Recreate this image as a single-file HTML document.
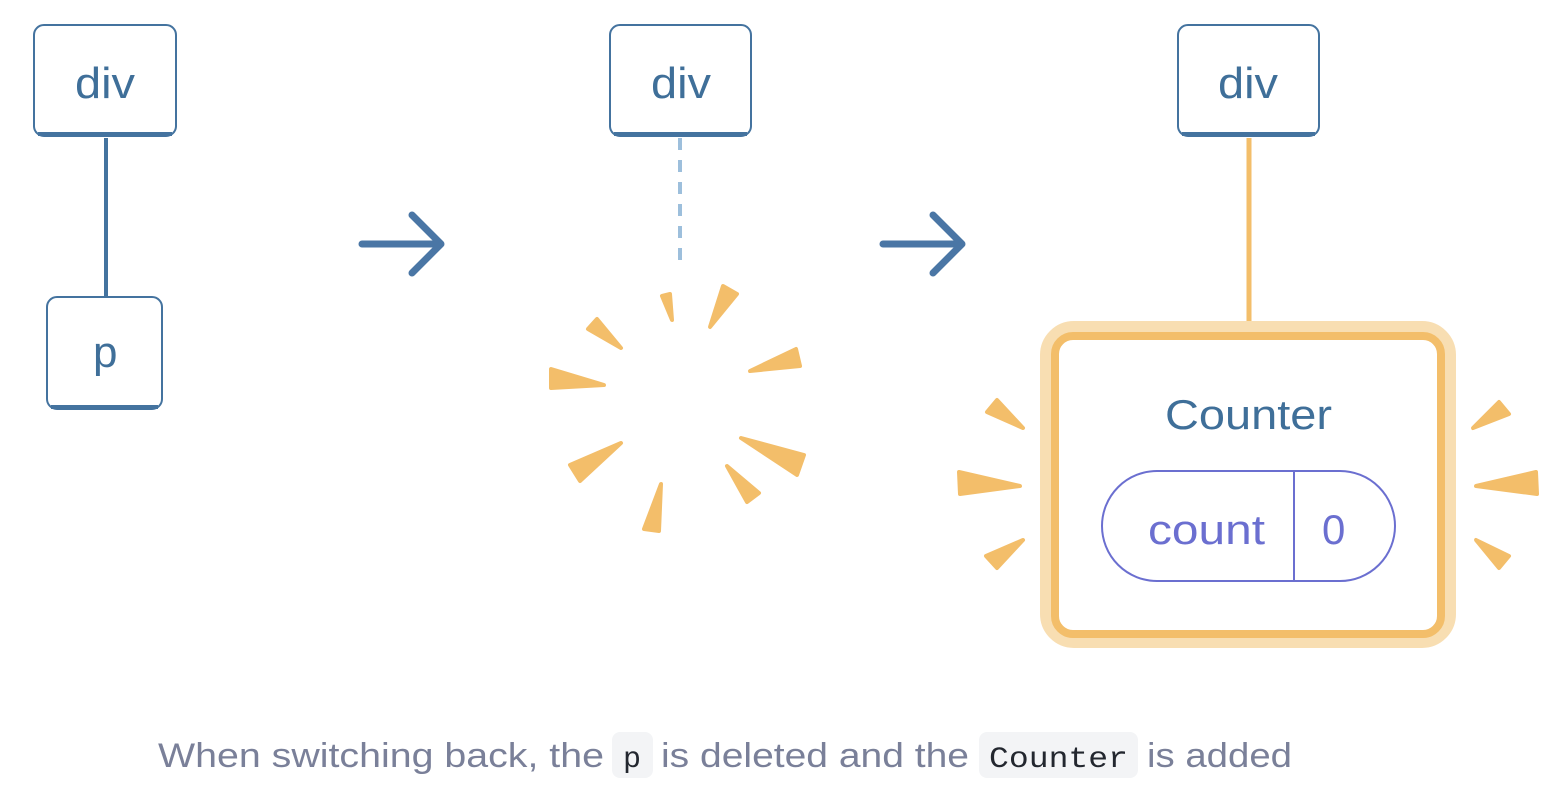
<!DOCTYPE html>
<html><head><meta charset="utf-8"><style>
html,body{margin:0;padding:0;background:#fff;}
svg{display:block;}
</style></head><body>
<svg width="1554" height="800" viewBox="0 0 1554 800" xmlns="http://www.w3.org/2000/svg">
<g fill="#fff" stroke="#44739f" stroke-width="2">
  <rect x="34" y="25" width="142" height="111" rx="10"/>
  <rect x="47" y="297" width="115" height="112" rx="10"/>
  <rect x="610" y="25" width="141" height="111" rx="10"/>
  <rect x="1178" y="25" width="141" height="111" rx="10"/>
</g>
<g stroke="#44739f" stroke-width="4" fill="none">
  <path d="M38 134 H172"/><path d="M51 407 H158"/><path d="M614 134 H747"/><path d="M1182 134 H1315"/>
</g>
<line x1="106" y1="138" x2="106" y2="297" stroke="#44739f" stroke-width="4"/>
<line x1="680" y1="138" x2="680" y2="262" stroke="#9dbfdc" stroke-width="4" stroke-dasharray="12,10"/>
<line x1="1249" y1="138" x2="1249" y2="332" stroke="#f3be6a" stroke-width="5"/>
<g font-family="'Liberation Sans',sans-serif" font-size="44" fill="#3f6f99">
  <text x="75" y="98" textLength="60" lengthAdjust="spacingAndGlyphs">div</text>
  <text x="93" y="367">p</text>
  <text x="651" y="98" textLength="60" lengthAdjust="spacingAndGlyphs">div</text>
  <text x="1218" y="98" textLength="60" lengthAdjust="spacingAndGlyphs">div</text>
</g>
<g stroke="#4a76a5" stroke-width="7" fill="none" stroke-linecap="round" stroke-linejoin="round">
  <path d="M362 244 H440 M412 215 L441 244 L412 273"/>
  <path d="M883 244 H961 M933 215 L962 244 L933 273"/>
</g>
<rect x="1046" y="327" width="404" height="315" rx="28" fill="none" stroke="#f8deb2" stroke-width="12"/>
<rect x="1055" y="336" width="386" height="298" rx="18" fill="#fff" stroke="#f3be6a" stroke-width="8"/>
<text x="1165" y="429" font-family="'Liberation Sans',sans-serif" font-size="42" fill="#3f6f99" textLength="167" lengthAdjust="spacingAndGlyphs">Counter</text>
<rect x="1102" y="471" width="293" height="110" rx="55" fill="#fff" stroke="#6b6fd0" stroke-width="2"/>
<line x1="1294" y1="471" x2="1294" y2="581" stroke="#6b6fd0" stroke-width="2"/>
<g font-family="'Liberation Sans',sans-serif" font-size="42" fill="#6b6fd0">
  <text x="1148" y="544" textLength="117" lengthAdjust="spacingAndGlyphs">count</text>
  <text x="1322" y="544">0</text>
</g>
<g fill="#f3be6a" stroke="#f3be6a" stroke-width="4" stroke-linejoin="round">
  <polygon points="662,296 670,294 672,320"/>
  <polygon points="723,286 737,294 710,327"/>
  <polygon points="588,329 597,319 621,348"/>
  <polygon points="551,369 551,388 604,385"/>
  <polygon points="750,371 796,349 800,366"/>
  <polygon points="741,438 804,455 797,475"/>
  <polygon points="570,465 580,481 621,443"/>
  <polygon points="727,466 759,493 747,502"/>
  <polygon points="644,529 659,531 661,484"/>
  <polygon points="987,412 997,400 1023,428"/>
  <polygon points="959,472 960,494 1020,486"/>
  <polygon points="986,556 997,568 1023,540"/>
  <polygon points="1499,402 1509,414 1473,428"/>
  <polygon points="1536,472 1537,494 1476,486"/>
  <polygon points="1476,540 1499,568 1509,556"/>
</g>
<rect x="612" y="732" width="41" height="46" rx="8" fill="#f3f4f6"/>
<rect x="979" y="732" width="159" height="46" rx="8" fill="#f3f4f6"/>
<g font-family="'Liberation Sans',sans-serif" font-size="34" fill="#7a8099">
  <text x="158" y="767" textLength="446" lengthAdjust="spacingAndGlyphs">When switching back, the</text>
  <text x="661" y="767" textLength="308" lengthAdjust="spacingAndGlyphs">is deleted and the</text>
  <text x="1147" y="767" textLength="145" lengthAdjust="spacingAndGlyphs">is added</text>
</g>
<g font-family="'Liberation Mono',monospace" font-size="30" fill="#23272f">
  <text x="632" y="767" text-anchor="middle">p</text>
  <text x="989" y="767" textLength="139" lengthAdjust="spacingAndGlyphs">Counter</text>
</g>
</svg>
</body></html>
